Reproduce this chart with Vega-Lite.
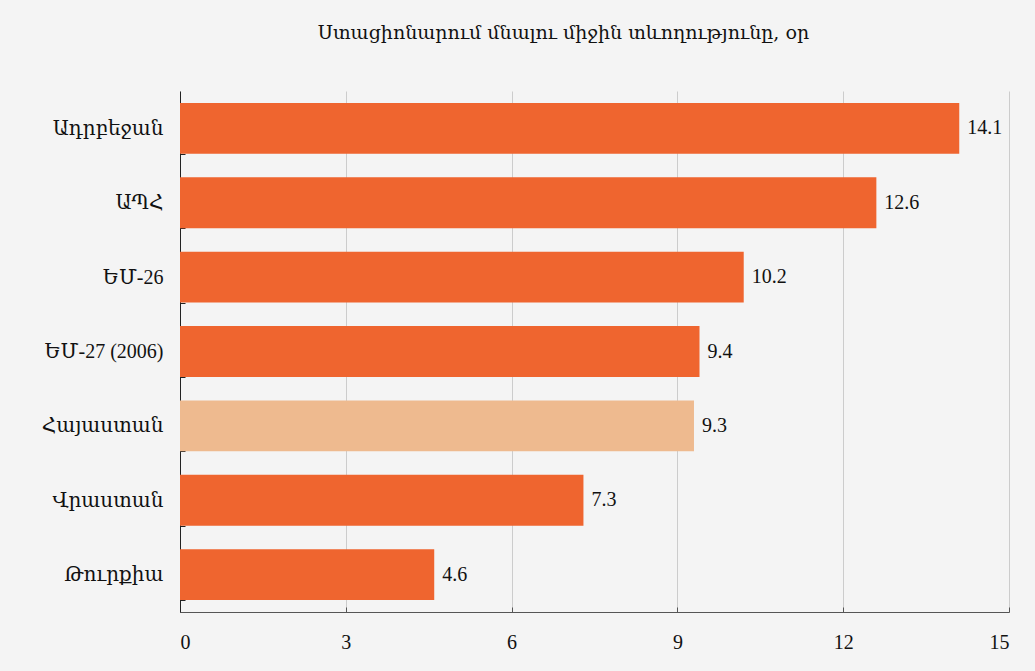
{
  "$schema": "https://vega.github.io/schema/vega-lite/v6.json",
  "autosize": "none",
  "width": 829,
  "height": 521,
  "padding": {"left": 180, "top": 91, "right": 26, "bottom": 59},
  "background": "#f4f4f4",
  "title": {
    "text": "Ստացիոնարում մնալու միջին տևողությունը, օր",
    "font": "DejaVu Serif",
    "fontSize": 19,
    "fontWeight": "normal",
    "color": "#111111",
    "anchor": "middle",
    "dx": -31,
    "offset": 38
  },
  "data": {
    "values": [
      {"country": "Ադրբեջան", "value": 14.1, "group": "other"},
      {"country": "ԱՊՀ", "value": 12.6, "group": "other"},
      {"country": "ԵՄ-26", "value": 10.2, "group": "other"},
      {"country": "ԵՄ-27 (2006)", "value": 9.4, "group": "other"},
      {"country": "Հայաստան", "value": 9.3, "group": "Armenia"},
      {"country": "Վրաստան", "value": 7.3, "group": "other"},
      {"country": "Թուրքիա", "value": 4.6, "group": "other"}
    ]
  },
  "config": {
    "view": {"stroke": null},
    "font": "Liberation Serif, DejaVu Serif"
  },
  "encoding": {
    "y": {
      "field": "country",
      "type": "nominal",
      "sort": null,
      "scale": {"paddingInner": 0.315, "paddingOuter": 0.16},
      "axis": {
        "title": null,
        "tickBand": "extent",
        "tickSize": -5,
        "tickColor": "#222222",
        "domainColor": "#222222",
        "labelFont": "Liberation Serif, DejaVu Serif",
        "labelFontSize": 20,
        "labelColor": "#111111",
        "labelPadding": 22,
        "grid": false
      }
    },
    "x": {
      "field": "value",
      "type": "quantitative",
      "scale": {"domain": [0, 15], "nice": false},
      "axis": {
        "title": null,
        "values": [0, 3, 6, 9, 12, 15],
        "tickSize": -5,
        "tickColor": "#555555",
        "domainColor": "#555555",
        "gridColor": "#cccccc",
        "grid": true,
        "labelFont": "Liberation Serif, DejaVu Serif",
        "labelFontSize": 20,
        "labelColor": "#111111",
        "labelPadding": 25
      }
    }
  },
  "layer": [
    {
      "mark": {"type": "bar"},
      "encoding": {
        "color": {
          "field": "group",
          "type": "nominal",
          "scale": {"domain": ["other", "Armenia"], "range": ["#ef652f", "#eeba8f"]},
          "legend": null
        }
      }
    },
    {
      "mark": {"type": "text", "align": "left", "baseline": "middle", "dx": 8, "fontSize": 20, "font": "Liberation Serif, DejaVu Serif", "color": "#111111"},
      "encoding": {
        "text": {"field": "value", "type": "quantitative", "format": ".1f"}
      }
    }
  ]
}
